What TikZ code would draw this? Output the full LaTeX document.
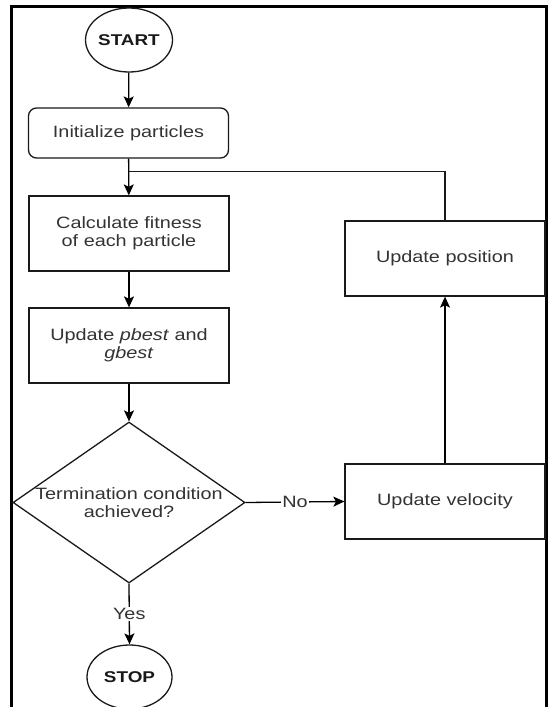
\documentclass[tikz,border=0pt]{standalone}
\usepackage{fontspec}
\setmainfont{Liberation Sans}[FakeStretch=1.21]
\usetikzlibrary{shapes.geometric,arrows.meta}
\definecolor{txt}{HTML}{333333}
\definecolor{edge}{HTML}{1A1A1A}
\begin{document}
\begin{tikzpicture}[x=1pt,y=-1pt,
  every node/.style={text=txt,font=\fontsize{16.4}{17.5}\selectfont,align=center},
  box/.style={draw=edge,line width=1.3pt,rectangle,minimum width=200pt,minimum height=75pt,inner sep=0pt},
  term/.style={draw=edge,line width=1.3pt,ellipse,minimum width=84pt,minimum height=64pt,inner sep=0pt,
    font=\fontsize{15.6}{17}\selectfont\bfseries,text=black!90},
  arr/.style={draw=black,line width=1.3pt,-{Stealth[length=11pt,width=10pt,inset=2.5pt]}},
  ln/.style={draw=edge,line width=1.3pt},
  lab/.style={fill=white,inner sep=1pt}]
\useasboundingbox (0,0) rectangle (548,707);
\fill[white] (0,0) rectangle (548,707);
% frame
\draw[line width=3pt,black] (11.5,708) -- (11.5,6.5) -- (546,6.5) -- (546,708);

\node[term] (start) at (129,40) {START};
\node[box,minimum height=50pt,rounded corners=8pt] (init) at (128.5,133) {Initialize particles};
\node[box] (calc) at (129,233.5) {Calculate fitness\\of each particle};
\node[box] (pbest) at (129,345.5) {Update \textit{pbest} and\\\textit{gbest}};
\node[draw=edge,line width=1.3pt,diamond,minimum width=232pt,minimum height=161pt,inner sep=0pt,
  label={[text=txt,font=\fontsize{16.4}{17.5}\selectfont,align=center]center:Termination condition\\achieved?}] (dec) at (129,502.5) {};
\node[term,minimum width=85pt] (stop) at (129.5,677) {STOP};
\node[box] (vel) at (445,501.5) {Update velocity};
\node[box] (pos) at (445,258.5) {Update position};

\coordinate (j) at (init.south |- 0,171.5);

\draw[arr] (start) -- (init);
\draw[arr] (init) -- (calc);
\draw[ln] (pos.north) |- (j);
\draw[arr] (calc) -- (pbest);
\draw[arr] (pbest) -- (dec.north);
\draw[arr] (dec.east) -- node[lab] {No} (vel.west);
\draw[arr] (dec.south) -- node[lab] {Yes} (stop.north);
\draw[arr] (vel) -- (pos);
\end{tikzpicture}
\end{document}
